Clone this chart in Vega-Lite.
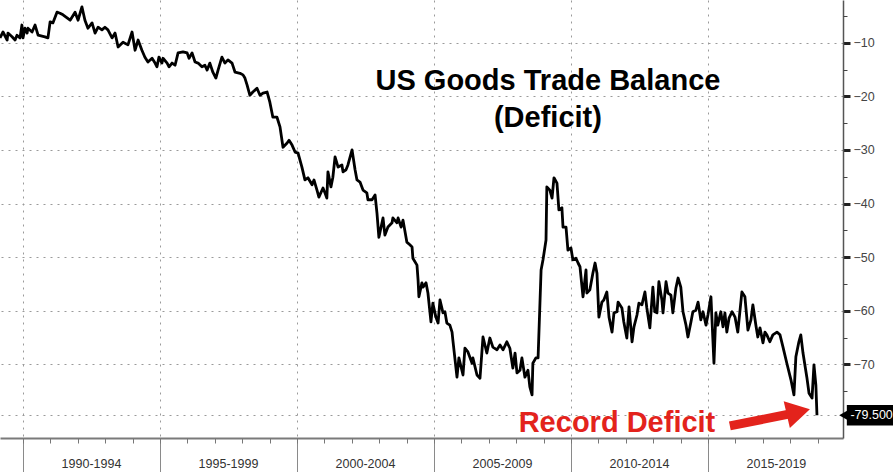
{
  "$schema": "https://vega.github.io/schema/vega-lite/v6.json",
  "width": 843,
  "height": 438,
  "autosize": "none",
  "padding": {"left": 0, "top": 0, "right": 50, "bottom": 34},
  "background": "white",
  "config": {"view": {"stroke": null}, "font": "Liberation Sans"},
  "datasets": {
    "series": [
      {"t": 1989.16, "v": -9.1}, {"t": 1989.27, "v": -8.0}, {"t": 1989.42, "v": -9.5}, {"t": 1989.45, "v": -8.2},
      {"t": 1989.60, "v": -8.9}, {"t": 1989.71, "v": -9.5}, {"t": 1989.78, "v": -8.6}, {"t": 1989.89, "v": -9.1},
      {"t": 1989.96, "v": -6.7}, {"t": 1990.00, "v": -9.1}, {"t": 1990.07, "v": -7.3}, {"t": 1990.15, "v": -8.2},
      {"t": 1990.18, "v": -7.3}, {"t": 1990.33, "v": -8.0}, {"t": 1990.44, "v": -6.7}, {"t": 1990.55, "v": -8.6},
      {"t": 1990.80, "v": -8.9}, {"t": 1990.91, "v": -9.1}, {"t": 1990.99, "v": -6.1}, {"t": 1991.09, "v": -6.3},
      {"t": 1991.24, "v": -4.3}, {"t": 1991.35, "v": -4.5}, {"t": 1991.46, "v": -4.8}, {"t": 1991.72, "v": -5.8},
      {"t": 1991.90, "v": -4.3}, {"t": 1992.01, "v": -5.8}, {"t": 1992.15, "v": -3.3}, {"t": 1992.26, "v": -5.8},
      {"t": 1992.37, "v": -7.3}, {"t": 1992.52, "v": -6.3}, {"t": 1992.63, "v": -8.2}, {"t": 1992.74, "v": -7.1},
      {"t": 1992.88, "v": -7.6}, {"t": 1992.99, "v": -7.1}, {"t": 1993.10, "v": -7.6}, {"t": 1993.25, "v": -9.1},
      {"t": 1993.36, "v": -8.2}, {"t": 1993.47, "v": -10.8}, {"t": 1993.65, "v": -9.9}, {"t": 1993.83, "v": -10.4},
      {"t": 1993.98, "v": -8.0}, {"t": 1994.09, "v": -11.4}, {"t": 1994.20, "v": -9.5}, {"t": 1994.34, "v": -11.4},
      {"t": 1994.45, "v": -12.7}, {"t": 1994.56, "v": -13.6}, {"t": 1994.71, "v": -12.9}, {"t": 1994.82, "v": -13.8},
      {"t": 1994.89, "v": -14.5}, {"t": 1994.96, "v": -12.7}, {"t": 1995.07, "v": -13.8}, {"t": 1995.11, "v": -12.9},
      {"t": 1995.26, "v": -13.8}, {"t": 1995.33, "v": -14.5}, {"t": 1995.44, "v": -13.8}, {"t": 1995.55, "v": -14.2},
      {"t": 1995.66, "v": -11.9}, {"t": 1995.84, "v": -11.7}, {"t": 1995.99, "v": -11.9}, {"t": 1996.06, "v": -12.9},
      {"t": 1996.17, "v": -11.9}, {"t": 1996.28, "v": -13.6}, {"t": 1996.39, "v": -13.8}, {"t": 1996.53, "v": -14.5},
      {"t": 1996.64, "v": -14.2}, {"t": 1996.72, "v": -15.1}, {"t": 1996.82, "v": -13.8}, {"t": 1996.93, "v": -15.5},
      {"t": 1997.04, "v": -16.6}, {"t": 1997.12, "v": -15.1}, {"t": 1997.26, "v": -12.7}, {"t": 1997.37, "v": -13.8},
      {"t": 1997.48, "v": -13.2}, {"t": 1997.63, "v": -13.8}, {"t": 1997.74, "v": -15.5}, {"t": 1997.92, "v": -15.7},
      {"t": 1998.03, "v": -16.0}, {"t": 1998.10, "v": -16.6}, {"t": 1998.18, "v": -17.9}, {"t": 1998.28, "v": -19.8},
      {"t": 1998.39, "v": -19.2}, {"t": 1998.54, "v": -18.5}, {"t": 1998.65, "v": -19.8}, {"t": 1998.76, "v": -19.4},
      {"t": 1998.91, "v": -19.2}, {"t": 1999.01, "v": -21.1}, {"t": 1999.12, "v": -23.9}, {"t": 1999.27, "v": -23.9},
      {"t": 1999.38, "v": -25.7}, {"t": 1999.49, "v": -29.5}, {"t": 1999.64, "v": -28.7}, {"t": 1999.71, "v": -28.2},
      {"t": 1999.82, "v": -29.1}, {"t": 1999.93, "v": -30.4}, {"t": 2000.04, "v": -30.6}, {"t": 2000.18, "v": -33.2},
      {"t": 2000.29, "v": -35.6}, {"t": 2000.40, "v": -35.2}, {"t": 2000.55, "v": -36.5}, {"t": 2000.62, "v": -35.6},
      {"t": 2000.73, "v": -37.5}, {"t": 2000.80, "v": -38.8}, {"t": 2000.95, "v": -37.1}, {"t": 2001.02, "v": -38.0},
      {"t": 2001.09, "v": -39.0}, {"t": 2001.13, "v": -34.1}, {"t": 2001.24, "v": -36.9}, {"t": 2001.31, "v": -35.1},
      {"t": 2001.39, "v": -31.3}, {"t": 2001.50, "v": -33.2}, {"t": 2001.64, "v": -32.8}, {"t": 2001.68, "v": -34.1},
      {"t": 2001.79, "v": -33.7}, {"t": 2001.86, "v": -32.8}, {"t": 2002.01, "v": -30.0}, {"t": 2002.12, "v": -33.7},
      {"t": 2002.19, "v": -35.6}, {"t": 2002.30, "v": -36.0}, {"t": 2002.41, "v": -37.5}, {"t": 2002.55, "v": -38.0},
      {"t": 2002.59, "v": -39.3}, {"t": 2002.74, "v": -39.3}, {"t": 2002.85, "v": -38.4}, {"t": 2002.92, "v": -41.8},
      {"t": 2002.99, "v": -46.3}, {"t": 2003.14, "v": -42.7}, {"t": 2003.21, "v": -45.9}, {"t": 2003.32, "v": -44.4},
      {"t": 2003.47, "v": -43.6}, {"t": 2003.50, "v": -42.7}, {"t": 2003.65, "v": -43.6}, {"t": 2003.69, "v": -42.7},
      {"t": 2003.80, "v": -44.4}, {"t": 2003.87, "v": -43.1}, {"t": 2004.01, "v": -47.2}, {"t": 2004.12, "v": -47.7},
      {"t": 2004.20, "v": -48.1}, {"t": 2004.23, "v": -50.2}, {"t": 2004.38, "v": -51.5}, {"t": 2004.42, "v": -54.3},
      {"t": 2004.45, "v": -57.4}, {"t": 2004.56, "v": -54.8}, {"t": 2004.60, "v": -55.6}, {"t": 2004.71, "v": -54.8},
      {"t": 2004.78, "v": -56.7}, {"t": 2004.89, "v": -62.1}, {"t": 2004.96, "v": -58.6}, {"t": 2005.07, "v": -61.2},
      {"t": 2005.15, "v": -62.3}, {"t": 2005.22, "v": -58.0}, {"t": 2005.33, "v": -60.4}, {"t": 2005.40, "v": -60.2},
      {"t": 2005.47, "v": -62.3}, {"t": 2005.58, "v": -62.7}, {"t": 2005.66, "v": -64.0}, {"t": 2005.69, "v": -65.5},
      {"t": 2005.84, "v": -72.4}, {"t": 2005.91, "v": -68.8}, {"t": 2006.06, "v": -72.0}, {"t": 2006.13, "v": -67.0},
      {"t": 2006.24, "v": -67.7}, {"t": 2006.39, "v": -69.8}, {"t": 2006.42, "v": -68.8}, {"t": 2006.57, "v": -72.0},
      {"t": 2006.68, "v": -72.6}, {"t": 2006.79, "v": -64.9}, {"t": 2006.93, "v": -67.9}, {"t": 2007.04, "v": -65.1},
      {"t": 2007.15, "v": -66.8}, {"t": 2007.30, "v": -67.3}, {"t": 2007.41, "v": -66.4}, {"t": 2007.52, "v": -67.3},
      {"t": 2007.66, "v": -65.8}, {"t": 2007.77, "v": -67.0}, {"t": 2007.88, "v": -70.7}, {"t": 2007.96, "v": -67.9},
      {"t": 2008.03, "v": -71.6}, {"t": 2008.14, "v": -71.1}, {"t": 2008.21, "v": -68.8}, {"t": 2008.32, "v": -72.4},
      {"t": 2008.43, "v": -71.1}, {"t": 2008.50, "v": -74.2}, {"t": 2008.58, "v": -75.7}, {"t": 2008.61, "v": -69.8},
      {"t": 2008.72, "v": -68.8}, {"t": 2008.80, "v": -68.8}, {"t": 2008.91, "v": -52.4}, {"t": 2008.98, "v": -50.5},
      {"t": 2009.09, "v": -46.8}, {"t": 2009.12, "v": -36.9}, {"t": 2009.23, "v": -37.5}, {"t": 2009.31, "v": -39.0},
      {"t": 2009.38, "v": -35.2}, {"t": 2009.49, "v": -36.2}, {"t": 2009.56, "v": -41.2}, {"t": 2009.67, "v": -40.8},
      {"t": 2009.71, "v": -44.4}, {"t": 2009.82, "v": -44.4}, {"t": 2009.89, "v": -48.7}, {"t": 2010.00, "v": -48.3},
      {"t": 2010.07, "v": -50.5}, {"t": 2010.18, "v": -50.2}, {"t": 2010.26, "v": -51.1}, {"t": 2010.33, "v": -51.8},
      {"t": 2010.44, "v": -57.4}, {"t": 2010.55, "v": -52.4}, {"t": 2010.58, "v": -56.7}, {"t": 2010.69, "v": -56.1},
      {"t": 2010.80, "v": -53.0}, {"t": 2010.88, "v": -51.1}, {"t": 2010.95, "v": -53.0}, {"t": 2011.02, "v": -61.2},
      {"t": 2011.13, "v": -58.4}, {"t": 2011.20, "v": -58.0}, {"t": 2011.31, "v": -56.5}, {"t": 2011.39, "v": -61.2},
      {"t": 2011.50, "v": -64.0}, {"t": 2011.57, "v": -60.4}, {"t": 2011.68, "v": -60.2}, {"t": 2011.72, "v": -58.4},
      {"t": 2011.86, "v": -59.5}, {"t": 2011.93, "v": -62.1}, {"t": 2012.04, "v": -65.1}, {"t": 2012.12, "v": -59.3},
      {"t": 2012.23, "v": -65.8}, {"t": 2012.30, "v": -63.0}, {"t": 2012.41, "v": -60.8}, {"t": 2012.48, "v": -58.6},
      {"t": 2012.59, "v": -58.9}, {"t": 2012.70, "v": -56.5}, {"t": 2012.77, "v": -59.5}, {"t": 2012.88, "v": -63.2},
      {"t": 2012.99, "v": -55.6}, {"t": 2013.06, "v": -60.2}, {"t": 2013.14, "v": -60.4}, {"t": 2013.21, "v": -54.6},
      {"t": 2013.32, "v": -58.0}, {"t": 2013.36, "v": -60.4}, {"t": 2013.47, "v": -54.6}, {"t": 2013.54, "v": -56.7},
      {"t": 2013.65, "v": -57.1}, {"t": 2013.72, "v": -60.4}, {"t": 2013.83, "v": -55.8}, {"t": 2013.91, "v": -53.9},
      {"t": 2014.01, "v": -55.6}, {"t": 2014.09, "v": -60.2}, {"t": 2014.20, "v": -62.7}, {"t": 2014.27, "v": -64.9},
      {"t": 2014.38, "v": -62.1}, {"t": 2014.45, "v": -60.2}, {"t": 2014.56, "v": -59.9}, {"t": 2014.64, "v": -58.4},
      {"t": 2014.74, "v": -61.7}, {"t": 2014.82, "v": -60.2}, {"t": 2014.93, "v": -62.7}, {"t": 2015.00, "v": -60.8},
      {"t": 2015.11, "v": -57.4}, {"t": 2015.22, "v": -69.8}, {"t": 2015.29, "v": -60.4}, {"t": 2015.36, "v": -62.7},
      {"t": 2015.47, "v": -60.2}, {"t": 2015.55, "v": -63.0}, {"t": 2015.62, "v": -60.4}, {"t": 2015.69, "v": -64.0},
      {"t": 2015.77, "v": -61.4}, {"t": 2015.88, "v": -60.2}, {"t": 2015.99, "v": -61.2}, {"t": 2016.09, "v": -64.0},
      {"t": 2016.24, "v": -56.5}, {"t": 2016.35, "v": -57.4}, {"t": 2016.46, "v": -63.6}, {"t": 2016.57, "v": -61.7},
      {"t": 2016.64, "v": -58.9}, {"t": 2016.75, "v": -62.7}, {"t": 2016.82, "v": -64.9}, {"t": 2016.90, "v": -63.2},
      {"t": 2017.01, "v": -66.0}, {"t": 2017.08, "v": -64.0}, {"t": 2017.15, "v": -64.5}, {"t": 2017.26, "v": -65.8},
      {"t": 2017.37, "v": -64.5}, {"t": 2017.52, "v": -64.0}, {"t": 2017.63, "v": -64.5}, {"t": 2017.74, "v": -66.8},
      {"t": 2017.88, "v": -69.8}, {"t": 2018.03, "v": -72.9}, {"t": 2018.14, "v": -75.7}, {"t": 2018.21, "v": -68.6},
      {"t": 2018.32, "v": -65.8}, {"t": 2018.39, "v": -64.5}, {"t": 2018.47, "v": -67.9}, {"t": 2018.61, "v": -72.4},
      {"t": 2018.69, "v": -75.4}, {"t": 2018.80, "v": -76.3}, {"t": 2018.87, "v": -70.1}, {"t": 2018.94, "v": -73.9},
      {"t": 2018.98, "v": -79.5}
    ],
    "heading": [
      {"t": 2009.16, "v": -18.8, "label": "US Goods Trade Balance"},
      {"t": 2009.16, "v": -25.7, "label": "(Deficit)"}
    ],
    "note": [{"t": 2011.68, "v": -82.6, "label": "Record Deficit"}],
    "arrow": [{"t": 2015.8, "v": -81.5, "t2": 2017.95, "v2": -79.3}],
    "arrowhead": [{"t": 2018.3, "v": -78.9}],
    "last": [{"t": 2020.07, "t2": 2022.0, "v": -77.6, "v2": -81.4, "tip": 2019.99, "lv": -79.5, "tx": 2020.2, "label": "-79.500"}]
  },
  "resolve": {"axis": {"x": "independent", "y": "independent"}},
  "layer": [
    {
      "data": {"name": "series"},
      "mark": {"type": "line", "color": "#000000", "strokeWidth": 2.8, "strokeJoin": "round"},
      "encoding": {
        "x": {
          "field": "t", "type": "quantitative",
          "scale": {"domain": [1989.16, 2019.93], "nice": false, "zero": false},
          "axis": {
            "orient": "bottom", "title": null,
            "values": [1990, 1995, 2000, 2005, 2010, 2015],
            "grid": true, "gridDash": [2, 5], "gridColor": "#9a9a9a", "gridWidth": 1,
            "ticks": true, "tickSize": 34, "tickColor": "#8a8a8a", "tickWidth": 1,
            "domain": true, "domainColor": "#7a7a7a", "domainWidth": 2,
            "labelExpr": "datum.value + '-' + (datum.value + 4)",
            "labelOffset": 68, "labelPadding": -15, "labelBaseline": "top",
            "labelFont": "Liberation Sans", "labelFontSize": 12.5, "labelColor": "#333333",
            "labelFlush": false, "labelOverlap": false
          }
        },
        "y": {
          "field": "v", "type": "quantitative",
          "scale": {"domain": [-83.75, -2.03], "nice": false, "zero": false},
          "axis": {
            "orient": "right", "title": null,
            "values": [-10, -20, -30, -40, -50, -60, -70, -79.5],
            "grid": true, "gridDash": [2, 5], "gridColor": "#9a9a9a", "gridWidth": 1,
            "ticks": true, "tickSize": 7, "tickWidth": 3, "tickColor": "#222222",
            "domain": true, "domainColor": "#555555", "domainWidth": 1.5,
            "labelExpr": "datum.value < -75 ? '' : datum.label",
            "labelPadding": 3, "labelAlign": "left",
            "labelFont": "Liberation Sans", "labelFontSize": 12.5, "labelColor": "#444444",
            "labelFlush": false, "labelOverlap": false
          }
        }
      }
    },
    {
      "data": {"name": "series"},
      "mark": {"type": "line", "opacity": 0},
      "encoding": {
        "x": {
          "field": "t", "type": "quantitative",
          "scale": {"domain": [1989.16, 2019.93], "nice": false, "zero": false},
          "axis": {
            "orient": "bottom", "title": null,
            "values": [1990, 1991, 1992, 1993, 1994, 1995, 1996, 1997, 1998, 1999, 2000, 2001, 2002, 2003, 2004, 2005, 2006, 2007, 2008, 2009, 2010, 2011, 2012, 2013, 2014, 2015, 2016, 2017, 2018, 2019],
            "grid": false, "domain": false, "labels": false,
            "ticks": true, "tickSize": 5, "tickColor": "#777777", "tickWidth": 1
          }
        },
        "y": {
          "field": "v", "type": "quantitative",
          "scale": {"domain": [-83.75, -2.03], "nice": false, "zero": false},
          "axis": {
            "orient": "right", "title": null,
            "values": [-5, -15, -25, -35, -45, -55, -65, -75],
            "grid": false, "domain": false, "labels": false,
            "ticks": true, "tickSize": 4, "tickColor": "#444444", "tickWidth": 1
          }
        }
      }
    },
    {
      "data": {"name": "heading"},
      "mark": {"type": "text", "color": "#000000", "fontSize": 29, "fontWeight": "bold", "font": "Liberation Sans", "align": "center", "baseline": "alphabetic"},
      "encoding": {
        "x": {"field": "t", "type": "quantitative", "scale": {"domain": [1989.16, 2019.93], "nice": false, "zero": false}, "axis": null},
        "y": {"field": "v", "type": "quantitative", "scale": {"domain": [-83.75, -2.03], "nice": false, "zero": false}, "axis": null},
        "text": {"field": "label"}
      }
    },
    {
      "data": {"name": "note"},
      "mark": {"type": "text", "color": "#e3231c", "fontSize": 29, "fontWeight": "bold", "font": "Liberation Sans", "align": "center", "baseline": "alphabetic"},
      "encoding": {
        "x": {"field": "t", "type": "quantitative", "scale": {"domain": [1989.16, 2019.93], "nice": false, "zero": false}, "axis": null},
        "y": {"field": "v", "type": "quantitative", "scale": {"domain": [-83.75, -2.03], "nice": false, "zero": false}, "axis": null},
        "text": {"field": "label"}
      }
    },
    {
      "data": {"name": "arrow"},
      "mark": {"type": "rule", "color": "#e3231c", "strokeWidth": 9},
      "encoding": {
        "x": {"field": "t", "type": "quantitative", "scale": {"domain": [1989.16, 2019.93], "nice": false, "zero": false}, "axis": null},
        "y": {"field": "v", "type": "quantitative", "scale": {"domain": [-83.75, -2.03], "nice": false, "zero": false}, "axis": null},
        "x2": {"field": "t2"},
        "y2": {"field": "v2"}
      }
    },
    {
      "data": {"name": "arrowhead"},
      "mark": {"type": "point", "shape": "triangle-right", "filled": true, "color": "#e3231c", "opacity": 1, "size": 750, "angle": -13},
      "encoding": {
        "x": {"field": "t", "type": "quantitative", "scale": {"domain": [1989.16, 2019.93], "nice": false, "zero": false}, "axis": null},
        "y": {"field": "v", "type": "quantitative", "scale": {"domain": [-83.75, -2.03], "nice": false, "zero": false}, "axis": null}
      }
    },
    {
      "data": {"name": "last"},
      "mark": {"type": "rect", "color": "#000000"},
      "encoding": {
        "x": {"field": "t", "type": "quantitative", "scale": {"domain": [1989.16, 2019.93], "nice": false, "zero": false}, "axis": null},
        "x2": {"field": "t2"},
        "y": {"field": "v", "type": "quantitative", "scale": {"domain": [-83.75, -2.03], "nice": false, "zero": false}, "axis": null},
        "y2": {"field": "v2"}
      }
    },
    {
      "data": {"name": "last"},
      "mark": {"type": "point", "shape": "triangle-left", "filled": true, "color": "#000000", "opacity": 1, "size": 160},
      "encoding": {
        "x": {"field": "tip", "type": "quantitative", "scale": {"domain": [1989.16, 2019.93], "nice": false, "zero": false}, "axis": null},
        "y": {"field": "lv", "type": "quantitative", "scale": {"domain": [-83.75, -2.03], "nice": false, "zero": false}, "axis": null}
      }
    },
    {
      "data": {"name": "last"},
      "mark": {"type": "text", "color": "#ffffff", "fontSize": 12.5, "font": "Liberation Sans", "align": "left", "baseline": "middle"},
      "encoding": {
        "x": {"field": "tx", "type": "quantitative", "scale": {"domain": [1989.16, 2019.93], "nice": false, "zero": false}, "axis": null},
        "y": {"field": "lv", "type": "quantitative", "scale": {"domain": [-83.75, -2.03], "nice": false, "zero": false}, "axis": null},
        "text": {"field": "label"}
      }
    }
  ]
}
